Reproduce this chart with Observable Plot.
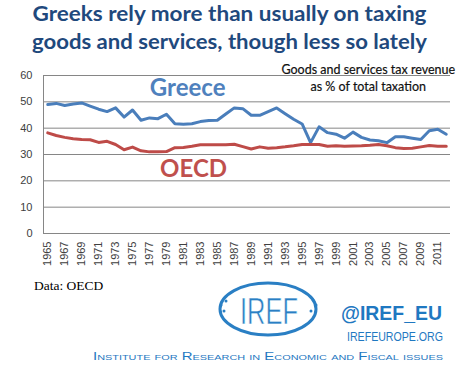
<!DOCTYPE html>
<html>
<head>
<meta charset="utf-8">
<script src="https://cdn.jsdelivr.net/npm/d3@7"></script>
<script src="https://cdn.jsdelivr.net/npm/@observablehq/plot@0.6"></script>
<style>
  html, body { margin: 0; padding: 0; background: #fff; }
  #wrap { width: 464px; height: 367px; overflow: hidden; }
  svg { display: block; }
</style>
</head>
<body>
<div id="wrap">
  <svg id="title" width="464" height="60">
    <text x="229.5" y="21" text-anchor="middle" font-family="Lato" font-weight="bold" font-size="21" fill="#1f497d" textLength="394" lengthAdjust="spacingAndGlyphs">Greeks rely more than usually on taxing</text>
    <text x="229.5" y="49" text-anchor="middle" font-family="Lato" font-weight="bold" font-size="21" fill="#1f497d" textLength="395" lengthAdjust="spacingAndGlyphs">goods and services, though less so lately</text>
  </svg>
  <div id="chart"></div>
  <svg id="footer" width="464" height="92">
    <text x="34" y="15" font-family="Liberation Serif" font-size="13.5" fill="#000">Data: OECD</text>
    <g>
      <ellipse cx="268" cy="34" rx="48" ry="26" fill="none" stroke="#2a7fc4" stroke-width="3"/>
      <text x="269" y="49" text-anchor="middle" font-family="Liberation Sans" font-size="36" fill="#2a7fc4" stroke="#fff" stroke-width="0.6" textLength="58" lengthAdjust="spacingAndGlyphs">IREF</text>
      <circle cx="221" cy="30" r="1.5" fill="#2a7fc4"/>
      <circle cx="226" cy="26" r="1.5" fill="#2a7fc4"/>
      <circle cx="224" cy="36" r="1.5" fill="#2a7fc4"/>
      <circle cx="316" cy="30" r="1.5" fill="#2a7fc4"/>
      <circle cx="311" cy="36" r="1.5" fill="#2a7fc4"/>
      <circle cx="313" cy="25" r="1.5" fill="#2a7fc4"/>
    </g>
    <text x="442" y="45" text-anchor="end" font-family="Liberation Sans" font-weight="bold" font-size="21" fill="#1f78c1" textLength="101" lengthAdjust="spacingAndGlyphs">@IREF_EU</text>
    <text x="443" y="66" text-anchor="end" font-family="Liberation Sans" font-size="13" fill="#1f78c1" textLength="96" lengthAdjust="spacingAndGlyphs">IREFEUROPE.ORG</text>
    <text x="443" y="85" text-anchor="end" font-family="Liberation Sans" font-size="11" fill="#1f78c1" style="font-variant: small-caps" textLength="350" lengthAdjust="spacingAndGlyphs">Institute for Research in Economic and Fiscal issues</text>
  </svg>
</div>
<script>
const years = [1965,1966,1967,1968,1969,1970,1971,1972,1973,1974,1975,1976,1977,1978,1979,1980,1981,1982,1983,1984,1985,1986,1987,1988,1989,1990,1991,1992,1993,1994,1995,1996,1997,1998,1999,2000,2001,2002,2003,2004,2005,2006,2007,2008,2009,2010,2011,2012];
const greece = [49.0,49.4,48.6,49.2,49.6,48.4,47.2,46.3,47.7,44.2,46.9,43.0,43.9,43.6,45.3,41.7,41.5,41.7,42.5,42.9,43.0,45.4,47.7,47.4,44.9,44.9,46.3,47.7,45.5,43.4,41.6,34.5,40.5,38.3,37.7,36.2,38.5,36.5,35.5,35.2,34.5,36.7,36.7,36.2,35.7,39.0,39.6,37.7];
const oecd = [38.2,37.2,36.5,36.0,35.7,35.6,34.6,35.0,33.8,31.8,32.8,31.4,31.0,31.0,31.1,32.6,32.7,33.1,33.7,33.7,33.7,33.7,33.9,33.0,32.1,32.9,32.4,32.6,32.9,33.3,33.8,33.8,33.8,33.1,33.3,33.1,33.2,33.3,33.5,33.8,33.3,32.6,32.3,32.4,32.9,33.4,33.1,33.1];
const xTickYears = [1965,1967,1969,1971,1973,1975,1977,1979,1981,1983,1985,1987,1989,1991,1993,1995,1997,1999,2001,2003,2005,2007,2009,2011];
const yTicks = [0,10,20,30,40,50,60];
const seriesNames = ["Greece", "OECD"];
const annotationLines = ["Goods and services tax revenue", "as % of total taxation"];

const greeceData = years.map((y, i) => ({year: y, value: greece[i]}));
const oecdData = years.map((y, i) => ({year: y, value: oecd[i]}));

const gridColor = "#868686";

const chart = Plot.plot({
  width: 464,
  height: 215,
  marginTop: 15,
  marginBottom: 42,
  marginLeft: 43,
  marginRight: 14,
  style: {fontFamily: "Liberation Sans", fontSize: "11px", color: "#404040", background: "#fff"},
  x: {type: "linear", domain: [1964.5, 2012.5], ticks: xTickYears, tickFormat: d => String(d), tickRotate: -90, tickSize: 0, tickPadding: 8, label: null},
  y: {domain: [0, 60], ticks: yTicks, tickSize: 0, tickPadding: 11, label: null},
  marks: [
    Plot.ruleY(yTicks.filter(d => d > 0), {stroke: gridColor, strokeWidth: 1}),
    Plot.ruleX([1964.5], {y1: 0, y2: 60, stroke: gridColor, strokeWidth: 1}),
    Plot.ruleY([0], {stroke: gridColor, strokeWidth: 1}),
    Plot.line(greeceData, {x: "year", y: "value", stroke: "#4a7ebb", strokeWidth: 3, strokeLinejoin: "round"}),
    Plot.line(oecdData, {x: "year", y: "value", stroke: "#be4b48", strokeWidth: 3, strokeLinejoin: "round"}),
    Plot.text([seriesNames[0]], {x: 1981.5, y: 55.1, text: d => d, fill: "#4f81bd", fontSize: 24, fontWeight: "bold", fontFamily: "Lato"}),
    Plot.text([seriesNames[1]], {x: 1982.2, y: 24.5, text: d => d, fill: "#c0504d", fontSize: 24, fontWeight: "bold", fontFamily: "Lato"}),
    Plot.text([annotationLines[0]], {x: 2002.8, y: 61.9, text: d => d, fill: "#111", fontSize: 12.5, fontFamily: "Lato", stroke: "#111", strokeWidth: 0.2}),
    Plot.text([annotationLines[1]], {x: 2002.8, y: 55.8, text: d => d, fill: "#111", fontSize: 12.5, fontFamily: "Lato", stroke: "#111", strokeWidth: 0.2})
  ]
});
document.getElementById("chart").appendChild(chart);
</script>
</body>
</html>
